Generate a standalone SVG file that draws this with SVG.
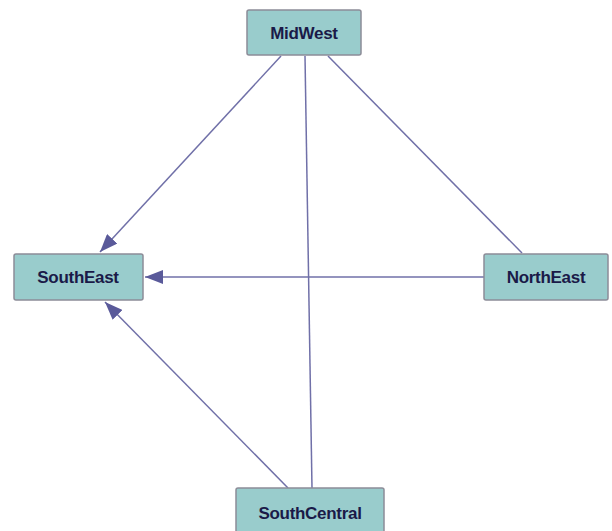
<svg xmlns="http://www.w3.org/2000/svg" width="612" height="531" viewBox="0 0 612 531">
<style>
.node rect{fill:#99cccc;stroke:#8c8c98;stroke-width:1.5}
.node text{font-family:"Liberation Sans",Arial,sans-serif;font-weight:bold;font-size:17px;letter-spacing:-0.3px;fill:#1a1a48;text-anchor:middle;dominant-baseline:central}
.edges line{stroke:#7070a8;stroke-width:1.5}
</style>
<defs>
<marker id="arr" viewBox="0 0 18 14" refX="18" refY="7" markerWidth="18" markerHeight="14" markerUnits="userSpaceOnUse" orient="auto">
<path d="M0,0 L18,7 L0,14 z" fill="#5a5a9a"/>
</marker>
</defs>
<rect width="612" height="531" fill="#ffffff"/>
<g class="edges">
<line x1="281" y1="56" x2="100" y2="252" marker-end="url(#arr)" stroke-width="2"/>
<line x1="305" y1="56" x2="312" y2="488"/>
<line x1="328" y1="56" x2="522" y2="253"/>
<line x1="484" y1="277" x2="145" y2="277" marker-end="url(#arr)"/>
<line x1="288" y1="488" x2="105" y2="302" marker-end="url(#arr)"/>
</g>
<g id="MidWest" class="node"><rect x="247" y="10" width="114" height="45" rx="2"/><text x="304" y="33">MidWest</text></g>
<g id="SouthEast" class="node"><rect x="14" y="254" width="129" height="46" rx="2"/><text x="78" y="277">SouthEast</text></g>
<g id="NorthEast" class="node"><rect x="484" y="254" width="124" height="46" rx="2"/><text x="546" y="277">NorthEast</text></g>
<g id="SouthCentral" class="node"><rect x="236" y="488" width="148" height="46" rx="2"/><text x="310" y="513">SouthCentral</text></g>
</svg>
